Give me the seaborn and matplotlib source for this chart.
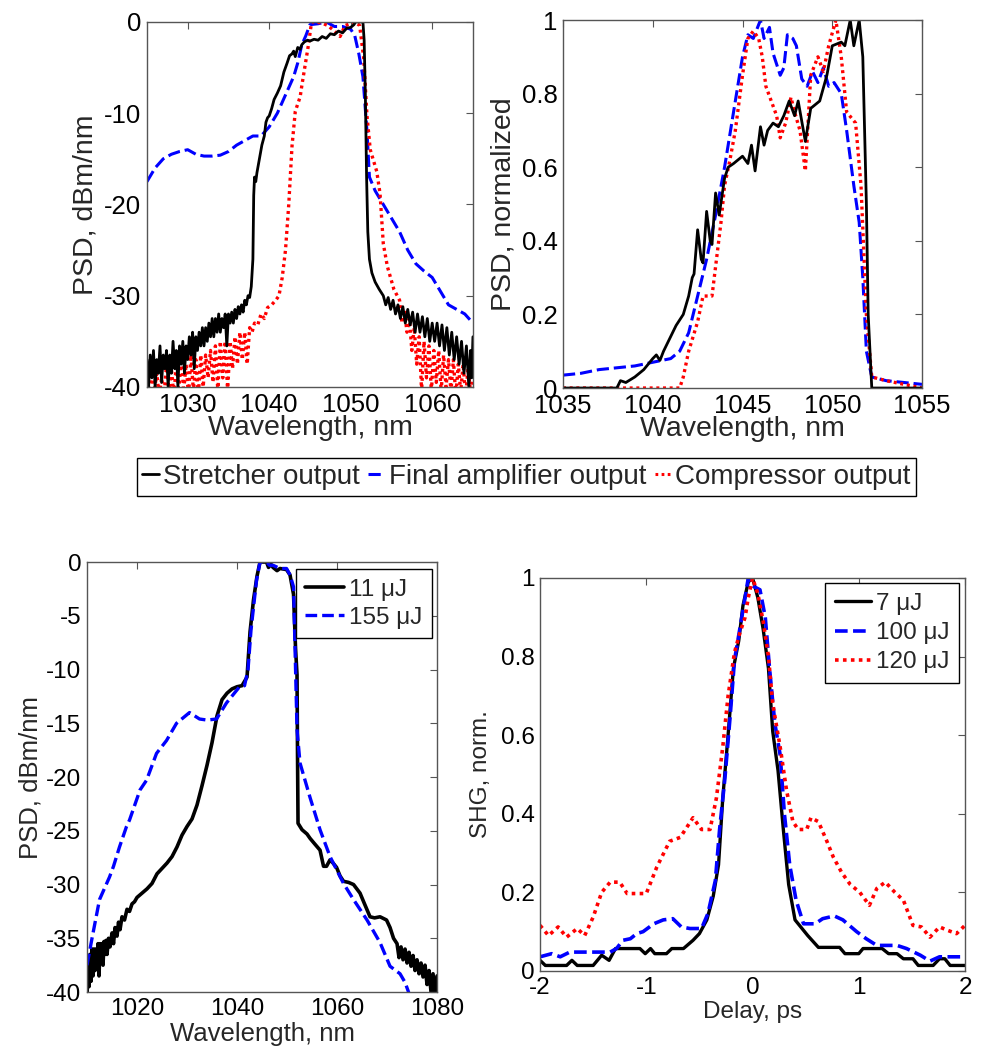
import numpy as np
import pandas as pd
import matplotlib
matplotlib.use("Agg")
import matplotlib.pyplot as plt
import seaborn as sns

# ==========================================
# DATA
# ==========================================
# --- top left: PSD in dBm/nm vs wavelength ---
stretch_wl = [1025.0, 1025.2, 1025.4, 1025.6, 1025.8, 1026.0, 1026.2, 1026.4, 1026.6, 1026.8,
              1027.0, 1027.2, 1027.4, 1027.6, 1027.8, 1028.0, 1028.2, 1028.4, 1028.6, 1028.8,
              1029.0, 1029.2, 1029.4, 1029.6, 1029.8, 1030.0, 1030.2, 1030.4, 1030.6, 1030.8,
              1031.0, 1031.2, 1031.4, 1031.6, 1031.8, 1032.0, 1032.2, 1032.4, 1032.6, 1032.8,
              1033.0, 1033.2, 1033.4, 1033.6, 1033.8, 1034.0, 1034.2, 1034.4, 1034.6, 1034.8,
              1035.0, 1035.2, 1035.4, 1035.6, 1035.8, 1036.0, 1036.2, 1036.4, 1036.6, 1036.8,
              1037.0, 1037.2, 1037.4, 1037.6, 1037.8, 1038.0, 1038.1, 1038.2, 1038.35, 1038.5,
              1038.8, 1039.1, 1039.4, 1039.6, 1039.8, 1040.0, 1040.3, 1040.6, 1041.0, 1041.4,
              1041.8, 1042.2, 1042.5, 1042.8, 1043.0, 1043.2, 1043.5, 1043.8, 1044.0, 1044.3,
              1044.7, 1045.0, 1045.5, 1046.0, 1046.5, 1047.0, 1047.5, 1048.0, 1048.5, 1049.0,
              1049.5, 1050.0, 1050.4, 1050.6, 1051.0, 1051.5, 1051.65, 1051.8, 1051.95, 1052.1,
              1052.3, 1052.6, 1053.0, 1053.5, 1054.0, 1054.3, 1054.6, 1054.9, 1055.2, 1055.5,
              1055.8, 1056.1, 1056.4, 1056.7, 1057.0, 1057.3, 1057.6, 1057.9, 1058.2, 1058.5,
              1058.8, 1059.1, 1059.4, 1059.7, 1060.0, 1060.3, 1060.6, 1060.9, 1061.2, 1061.5,
              1061.8, 1062.1, 1062.4, 1062.7, 1063.0, 1063.3, 1063.6, 1063.9, 1064.2, 1064.5,
              1064.7, 1064.85, 1065.0]
stretch_psd = [-37, -40, -36.5, -39, -36, -40, -37, -38.5, -35.5, -39.5,
               -36.5, -38, -36, -40, -36.5, -38.5, -35, -38, -36, -40,
               -35.5, -37.5, -35, -38.5, -35.5, -37, -34.5, -36.5, -34, -38,
               -34.5, -36, -34, -35.5, -33.5, -35.5, -33.5, -35, -33, -34.5,
               -32.5, -34.5, -32.5, -34, -32, -34, -32.5, -33.5, -32, -35.5,
               -32, -33, -31.8, -33, -31.5, -32.5, -31.2, -32, -31, -31.8,
               -30.5, -31, -30, -30.2, -29, -26, -19, -17, -17.5, -16.5,
               -15, -13.5, -12.5, -11, -10.5, -10.3, -9.5, -8.5, -7.8, -7,
               -5.5, -4.5, -3.7, -3.5, -3.2, -3.8, -2.8, -3, -2.5, -2.2,
               -2, -2.1, -1.9, -2, -1.6, -1.8, -1.3, -1.4, -1.0, -1.2,
               -0.7, -0.6, -0.3, 0, 0, 0, -2, -8, -17, -23,
               -26, -27.5, -28.5, -29.3, -30, -31, -30.2, -31.5, -30.5, -32,
               -31, -32.5, -31.2, -33, -31.5, -33.2, -31.8, -34, -32, -34,
               -32.3, -34.5, -32.5, -35, -33, -35, -33, -35.5, -33.2, -36,
               -33.5, -36.5, -34, -37, -34.5, -37.5, -35, -38.5, -35.5, -40,
               -36, -39, -34.5]

amp_wl = [1025, 1026, 1027, 1028, 1029, 1030, 1031, 1032, 1033, 1034, 1035, 1036, 1037,
          1038, 1039, 1040, 1041, 1042, 1043, 1043.5, 1044, 1044.5, 1045, 1046, 1047,
          1048, 1049, 1050, 1050.5, 1051, 1051.5, 1052, 1052.3, 1053, 1054, 1055, 1056,
          1057, 1058, 1059, 1060, 1061, 1062, 1063, 1064, 1065]
amp_psd = [-17.5, -16, -15, -14.5, -14.2, -14, -14.5, -14.7, -14.7, -14.6, -14.2, -13.5, -13,
           -12.5, -12.5, -11.5, -10, -8, -6, -4.5, -2.5, -1.5, -0.3, -0.2, 0,
           -0.5, -0.5, -0.8, -1.5, -3.5, -6, -12, -17, -18.5, -20, -21.5, -23,
           -25, -26.5, -27.3, -28, -29.5, -31, -31.5, -32, -33]

comp_wl = [1025.0, 1025.3, 1025.6, 1025.9, 1026.2, 1026.5, 1026.8, 1027.1, 1027.4, 1027.7,
           1028.0, 1028.3, 1028.6, 1028.9, 1029.2, 1029.5, 1029.8, 1030.1, 1030.4, 1030.7,
           1031.0, 1031.3, 1031.6, 1031.9, 1032.2, 1032.5, 1032.8, 1033.1, 1033.4, 1033.7,
           1034.0, 1034.3, 1034.6, 1034.9, 1035.2, 1035.5, 1035.8, 1036.1, 1036.4, 1036.7,
           1037.0, 1037.3, 1037.6, 1037.9, 1038.2, 1038.6, 1039.0, 1039.4, 1039.8, 1040.3,
           1040.8, 1041.2, 1041.6, 1042.0, 1042.4, 1042.8, 1043.2, 1043.8, 1044.0, 1044.8,
           1045.2, 1046.4, 1047.2, 1048.0, 1048.7, 1049.3, 1050.5, 1051.1, 1051.6, 1052.0,
           1052.4, 1053.2, 1053.6, 1054.0, 1054.5, 1055.3, 1056.0, 1056.3, 1056.6, 1056.9,
           1057.2, 1057.5, 1057.8, 1058.1, 1058.4, 1058.7, 1059.0, 1059.3, 1059.6, 1059.9,
           1060.2, 1060.5, 1060.8, 1061.1, 1061.4, 1061.7, 1062.0, 1062.3, 1062.6, 1062.9,
           1063.2, 1063.5, 1063.8, 1064.1, 1064.4, 1064.7, 1065.0]
comp_psd = [-38.5, -40.5, -38, -40.5, -38.5, -41, -39, -41, -37.5, -40.5,
            -38, -41, -37.5, -40.5, -36.5, -40.5, -37.5, -41, -36.5, -40.5,
            -37, -41, -36.5, -40, -36.5, -39, -36, -39.5, -35.5, -40.5,
            -35, -39, -35, -40.5, -35, -38, -34.5, -37.5, -34, -37,
            -34, -37.5, -33.5, -34, -33, -33.2, -32, -32.5, -31.3, -31,
            -30.5, -30, -28, -25, -20, -13.6, -9.8, -8.2, -7, -2.6,
            0, -0.1, -0.4, -1, -1.6, -0.4, 0, -0.4, -4, -10.3,
            -14, -16.4, -18.8, -24.3, -26.8, -29.3, -30.5, -33, -31.5, -34,
            -32.5, -36, -33.5, -37.5, -34.5, -40.5, -35, -39, -35.5, -40.5,
            -36, -39.5, -36, -40.5, -36.5, -40, -37, -40.5, -37, -41,
            -37.5, -40.5, -37.5, -41, -38, -40.5, -38]

# --- top right: normalized PSD ---
stretch_lin_wl = [1035, 1038, 1038.2, 1038.5, 1039, 1039.5, 1040, 1040.2, 1040.4, 1040.6,
                  1041, 1041.3, 1041.7, 1042, 1042.2, 1042.3, 1042.5, 1042.7, 1042.8, 1043,
                  1043.2, 1043.3, 1043.5, 1043.7, 1044, 1044.2, 1044.5, 1045, 1045.3, 1045.5,
                  1045.7, 1046, 1046.2, 1046.4, 1046.7, 1047, 1047.3, 1047.6, 1047.9, 1048.1,
                  1048.5, 1048.8, 1049.3, 1049.7, 1050, 1050.5, 1050.7, 1051, 1051.2, 1051.5,
                  1051.7, 1051.9, 1052, 1052.2, 1055]
stretch_lin = [0, 0, 0.02, 0.015, 0.03, 0.05, 0.08, 0.09, 0.075, 0.1,
               0.14, 0.17, 0.2, 0.25, 0.3, 0.31, 0.43, 0.35, 0.34, 0.48,
               0.4, 0.39, 0.53, 0.47, 0.57, 0.6, 0.61, 0.63, 0.61, 0.66,
               0.59, 0.71, 0.66, 0.7, 0.72, 0.71, 0.74, 0.78, 0.74, 0.78,
               0.67, 0.76, 0.78, 0.85, 0.93, 0.94, 0.93, 1.0, 0.93, 1.0,
               0.9, 0.5, 0.2, 0.0, 0]

amp_lin_wl = [1035, 1036, 1037, 1038, 1039, 1040, 1041, 1041.5, 1042, 1042.5, 1043, 1043.5,
              1044, 1044.5, 1045, 1045.3, 1045.6, 1046, 1046.2, 1046.5, 1046.7, 1046.9, 1047.1,
              1047.3, 1047.5, 1047.8, 1048, 1048.3, 1048.6, 1048.9, 1049.2, 1049.5, 1049.8,
              1050.1, 1050.5, 1050.8, 1051.2, 1051.5, 1051.7, 1051.9, 1052.2, 1053, 1055]
amp_lin = [0.035, 0.04, 0.05, 0.055, 0.06, 0.07, 0.08, 0.1, 0.15, 0.25, 0.35, 0.47,
           0.6, 0.75, 0.9, 0.96, 0.95, 1.0, 0.95, 0.98, 0.91, 0.88, 0.85,
           0.87, 0.96, 0.95, 0.93, 0.84, 0.82, 0.86, 0.83, 0.87, 0.82,
           0.83, 0.8, 0.7, 0.55, 0.45, 0.3, 0.1, 0.03, 0.02, 0.01]

comp_lin_wl = [1035, 1041.5, 1041.7, 1042, 1042.5, 1042.8, 1043.3, 1043.5, 1043.8, 1044,
               1044.3, 1044.6, 1045, 1045.3, 1045.6, 1045.9, 1046.1, 1046.3, 1046.6, 1046.9,
               1047.1, 1047.4, 1047.7, 1047.9, 1048.2, 1048.5, 1048.8, 1049.2, 1049.5, 1049.8,
               1050.2, 1050.5, 1050.8, 1051.3, 1051.6, 1051.9, 1052.2, 1053, 1055]
comp_lin = [0, 0, 0.03, 0.1, 0.18, 0.25, 0.25, 0.33, 0.45, 0.55,
            0.62, 0.7, 0.85, 0.95, 0.97, 0.95, 0.9, 0.82, 0.78, 0.74,
            0.68, 0.72, 0.79, 0.75, 0.7, 0.59, 0.85, 0.9, 0.86, 0.93,
            1.0, 0.9, 0.75, 0.72, 0.55, 0.2, 0.03, 0.02, 0]

# --- bottom left: PSD at two pulse energies ---
e11_wl = [1010.0, 1010.2, 1010.4, 1010.6, 1010.8, 1011.0, 1011.2, 1011.4, 1011.6, 1011.8,
          1012.0, 1012.2, 1012.4, 1012.6, 1012.8, 1013.0, 1013.2, 1013.4, 1013.6, 1013.8,
          1014.0, 1014.3, 1014.6, 1015.0, 1015.3, 1015.6, 1016.0, 1016.3, 1016.6, 1017.0,
          1017.5, 1018.0, 1018.5, 1019.0, 1019.5, 1020.0, 1021.0, 1022.0, 1023.0, 1024.0,
          1025.0, 1026.0, 1027.0, 1028.0, 1029.0, 1030.0, 1031.0, 1032.0, 1033.0, 1034.0,
          1035.0, 1036.0, 1037.0, 1038.0, 1039.0, 1040.0, 1041.0, 1042.0, 1042.6, 1043.3,
          1044.0, 1044.6, 1045.9, 1046.3, 1046.8, 1047.2, 1048.0, 1048.6, 1049.9, 1050.6,
          1051.3, 1051.7, 1052.0, 1052.1, 1052.2, 1053.0, 1054.0, 1054.6, 1055.5, 1056.6,
          1057.3, 1057.9, 1058.6, 1059.2, 1059.9, 1060.6, 1061.3, 1062.3, 1063.3, 1064.6,
          1065.5, 1066.6, 1067.5, 1068.6, 1069.9, 1070.6, 1071.3, 1072.0, 1072.4, 1072.8,
          1073.2, 1073.6, 1074.0, 1074.4, 1074.8, 1075.2, 1075.6, 1076.0, 1076.4, 1076.8,
          1077.2, 1077.6, 1078.0, 1078.4, 1078.8, 1079.2, 1079.6, 1080.0]
e11_psd = [-40.5, -37, -39.5, -36.5, -39, -36, -38.5, -36, -38, -36,
           -37.5, -35.5, -38.5, -35.5, -37, -35.5, -37.5, -35.3, -36.5, -35.2,
           -36.5, -35, -35.8, -34.5, -35.5, -34, -34.8, -33.5, -34.2, -33,
           -33.3, -32.3, -32.5, -31.8, -31.6, -31.2, -30.8, -30.4, -29.9, -29,
           -28.5, -28, -27.4, -26.5, -25.4, -24.6, -23.9, -22.6, -20.8, -18.9,
           -16.8, -14.3, -12.8, -12.2, -11.8, -11.6, -11.5, -10.7, -6.5, -3.5,
           -1.3, 0, 0, -0.5, -0.2, -0.5, -0.8, -0.6, -0.7, -1.2,
           -3, -8, -10.5, -18, -24.3, -24.9, -25.3, -25.7, -26.2, -26.8,
           -28.3, -28.3, -27.7, -28, -28.4, -29.2, -29.7, -29.8, -30, -30.8,
           -31.8, -33, -33.1, -33, -33.3, -34, -35, -35.5, -36.8, -35.8,
           -37, -36, -37.3, -36.3, -37.6, -36.6, -38, -37, -38.3, -37.3,
           -38.6, -37.5, -39.3, -38, -40, -38.3, -40.3, -38.5]

e155_wl = [1010, 1011, 1012.5, 1014.5, 1015.3, 1016.5, 1017.9, 1018.5, 1020.6, 1021.9, 1023.9,
           1025.9, 1027.9, 1030.5, 1032.5, 1034, 1035.9, 1037.9, 1040.5, 1041.5, 1042.2,
           1042.8, 1043.9, 1044.6, 1045.9, 1046.5, 1047.2, 1048.6, 1049.9, 1050.6, 1051.3,
           1052.0, 1052.6, 1054.6, 1056.6, 1058.6, 1061.3, 1063.3, 1066.0, 1068.6, 1070.6,
           1072.6, 1073.6, 1074.3, 1074.8]
e155_psd = [-37.5, -35, -31.4, -29.3, -28.3, -26.5, -24.6, -24, -21.2, -20.3, -17.8,
            -16.6, -15, -14, -14.6, -14.7, -14.6, -13.1, -11.6, -11.5, -10,
            -6.3, -1.7, 0, 0, -0.3, -0.3, -0.6, -0.6, -1.2, -2.3,
            -15.6, -18.7, -21.9, -24.9, -27.4, -29.9, -31.4, -33.3, -35.4, -37.6,
            -38.3, -39.1, -40, -41]

# --- bottom right: SHG autocorrelation ---
ac7_t = [-2, -1.95, -1.75, -1.7, -1.65, -1.5, -1.42, -1.35, -1.29, -1.06, -1.01, -0.96,
         -0.92, -0.81, -0.76, -0.65, -0.56, -0.5, -0.43, -0.37, -0.32, -0.28, -0.23, -0.18,
         -0.13, -0.09, -0.04, 0.0, 0.05, 0.1, 0.15, 0.19, 0.24, 0.29, 0.34, 0.4, 0.46,
         0.52, 0.62, 0.82, 0.87, 1.0, 1.04, 1.22, 1.28, 1.36, 1.42, 1.51, 1.56, 1.7,
         1.76, 1.81, 1.86, 2.0]
ac7 = [0.027, 0.014, 0.014, 0.027, 0.014, 0.014, 0.04, 0.027, 0.057, 0.057, 0.044, 0.057,
       0.044, 0.044, 0.057, 0.057, 0.078, 0.095, 0.13, 0.19, 0.27, 0.44, 0.6, 0.77,
       0.84, 0.93, 0.99, 1.0, 0.95, 0.87, 0.77, 0.61, 0.51, 0.36, 0.22, 0.13, 0.11,
       0.09, 0.06, 0.06, 0.044, 0.044, 0.057, 0.057, 0.044, 0.044, 0.031, 0.031, 0.014, 0.014,
       0.031, 0.031, 0.014, 0.014]

ac100_t = [-2, -1.89, -1.81, -1.72, -1.34, -1.28, -1.22, -1.15, -1.09, -1.03, -0.93, -0.84,
           -0.75, -0.67, -0.59, -0.48, -0.42, -0.35, -0.31, -0.26, -0.21, -0.17, -0.12, -0.07,
           -0.04, 0.0, 0.07, 0.12, 0.16, 0.21, 0.26, 0.3, 0.35, 0.41, 0.48, 0.59, 0.66,
           0.77, 0.85, 0.98, 1.07, 1.17, 1.36, 1.45, 1.58, 1.67, 1.76, 2.0]
ac100 = [0.036, 0.044, 0.036, 0.048, 0.048, 0.057, 0.078, 0.082, 0.095, 0.1, 0.12, 0.13,
         0.133, 0.112, 0.108, 0.108, 0.146, 0.23, 0.36, 0.49, 0.65, 0.79, 0.87, 0.95,
         1.0, 0.98, 0.97, 0.9, 0.77, 0.63, 0.55, 0.4, 0.27, 0.18, 0.12, 0.12, 0.133,
         0.14, 0.13, 0.1, 0.082, 0.065, 0.065, 0.057, 0.04, 0.025, 0.036, 0.036]

ac120_t = [-2, -1.92, -1.83, -1.75, -1.65, -1.58, -1.5, -1.42, -1.34, -1.25, -1.18, -1.0,
           -0.9, -0.78, -0.68, -0.56, -0.48, -0.4, -0.34, -0.28, -0.23, -0.17, -0.12, -0.07,
           -0.04, 0.0, 0.05, 0.1, 0.15, 0.19, 0.26, 0.32, 0.38, 0.43, 0.51, 0.55, 0.62,
           0.7, 0.76, 0.84, 0.92, 1.01, 1.1, 1.17, 1.25, 1.34, 1.42, 1.51, 1.59, 1.67,
           1.76, 1.84, 1.92, 2.0]
ac120 = [0.116, 0.09, 0.112, 0.086, 0.108, 0.09, 0.137, 0.2, 0.226, 0.226, 0.197, 0.197,
         0.265, 0.33, 0.34, 0.39, 0.36, 0.36, 0.44, 0.57, 0.7, 0.81, 0.86, 0.9,
         0.95, 1.0, 0.96, 0.89, 0.8, 0.68, 0.57, 0.46, 0.38, 0.36, 0.36, 0.39, 0.38,
         0.33, 0.29, 0.25, 0.22, 0.2, 0.167, 0.21, 0.226, 0.2, 0.18, 0.116, 0.112, 0.086,
         0.112, 0.103, 0.095, 0.116]

top_labels = ["Stretcher output", "Final amplifier output", "Compressor output"]
energy_labels = ["11 \u03bcJ", "155 \u03bcJ"]
ac_labels = ["7 \u03bcJ", "100 \u03bcJ", "120 \u03bcJ"]

# ==========================================
# STYLE
# ==========================================
sns.set_theme(style="white")
plt.rcParams['font.family'] = ['Liberation Sans', 'DejaVu Sans']
plt.rcParams['axes.unicode_minus'] = False
plt.rcParams['axes.edgecolor'] = '#555555'
plt.rcParams['axes.linewidth'] = 1.0

SOLID = dict(color='black', linestyle='-')
DASH = dict(color='#0000ff', dashes=(4, 1.6))
DOT = dict(color='#ff0000', dashes=(0.9, 1.1))


def line(ax, x, y, style, lw, label=None):
    sns.lineplot(x=x, y=y, ax=ax, estimator=None, sort=False, lw=lw, label=label, **style)


def frame(ax, xlim, ylim, xticks, yticks, tsize):
    ax.set_xlim(*xlim)
    ax.set_ylim(*ylim)
    ax.set_xticks(xticks)
    ax.set_yticks(yticks)
    ax.tick_params(direction='in', top=True, right=True, length=5, width=0.8,
                   color='#555555', labelsize=tsize, pad=4, labelcolor='black')
    for s in ax.spines.values():
        s.set_visible(True)


fig = plt.figure(figsize=(9.81, 10.49), dpi=100)

# ---- top left ----
ax1 = fig.add_axes([0.1498, 0.6311, 0.3323, 0.3480])
line(ax1, amp_wl, amp_psd, DASH, 2.2)
line(ax1, comp_wl, comp_psd, DOT, 2.4)
line(ax1, stretch_wl, stretch_psd, SOLID, 2.0)
frame(ax1, (1025, 1065), (-40, 0), [1030, 1040, 1050, 1060], [-40, -30, -20, -10, 0], 18.5)
ax1.set_xlabel('Wavelength, nm', fontsize=20.5, labelpad=-1)
ax1.set_ylabel('PSD, dBm/nm', fontsize=20.5, labelpad=4)

# ---- top right ----
ax2 = fig.add_axes([0.5739, 0.6301, 0.3660, 0.3508])
line(ax2, amp_lin_wl, amp_lin, DASH, 2.2)
line(ax2, comp_lin_wl, comp_lin, DOT, 2.4)
line(ax2, stretch_lin_wl, stretch_lin, SOLID, 2.0)
frame(ax2, (1035, 1055), (0, 1), [1035, 1040, 1045, 1050, 1055],
      [0, 0.2, 0.4, 0.6, 0.8, 1], 18.5)
ax2.set_yticklabels(['0', '0.2', '0.4', '0.6', '0.8', '1'])
ax2.set_xlabel('Wavelength, nm', fontsize=20.5, labelpad=-1)
ax2.set_ylabel('PSD, normalized', fontsize=20.5, labelpad=4)

# shared legend for top row
handles = [plt.Line2D([], [], lw=2.0, **SOLID),
           plt.Line2D([], [], lw=2.2, **DASH),
           plt.Line2D([], [], lw=2.2, **DOT)]
fig.legend(handles, top_labels, loc='center', bbox_to_anchor=(0.5367, 0.5453), ncol=3,
           fontsize=20, handlelength=0.6, handletextpad=0.15, columnspacing=0.3,
           borderpad=0.2, fancybox=False, edgecolor='black', framealpha=1)

# ---- bottom left ----
ax3 = fig.add_axes([0.0887, 0.0543, 0.3568, 0.4099])
line(ax3, e11_wl, e11_psd, SOLID, 2.6, energy_labels[0])
line(ax3, e155_wl, e155_psd, dict(color='#0000ff', dashes=(3.5, 1.5)), 2.4, energy_labels[1])
frame(ax3, (1010, 1080), (-40, 0), [1020, 1040, 1060, 1080],
      [-40, -35, -30, -25, -20, -15, -10, -5, 0], 17.5)
ax3.set_xlabel('Wavelength, nm', fontsize=18.5, labelpad=2)
ax3.set_ylabel('PSD, dBm/nm', fontsize=18.5, labelpad=3)
ax3.legend(loc='upper right', bbox_to_anchor=(0.986, 0.984), borderaxespad=0,
           fontsize=17.5, handlelength=1.6, handletextpad=0.2, labelspacing=0.25,
           borderpad=0.4, fancybox=False, edgecolor='black', framealpha=1)

# ---- bottom right ----
ax4 = fig.add_axes([0.5505, 0.0744, 0.4332, 0.3746])
line(ax4, ac7_t, ac7, SOLID, 2.4, ac_labels[0])
line(ax4, ac100_t, ac100, dict(color='#0000ff', dashes=(3.5, 1.5)), 2.6, ac_labels[1])
line(ax4, ac120_t, ac120, dict(color='#ff0000', dashes=(1, 1.2)), 2.6, ac_labels[2])
frame(ax4, (-2, 2), (0, 1), [-2, -1, 0, 1, 2], [0, 0.2, 0.4, 0.6, 0.8, 1], 17.5)
ax4.set_yticklabels(['0', '0.2', '0.4', '0.6', '0.8', '1'])
ax4.set_xlabel('Delay, ps', fontsize=17.5, labelpad=2)
ax4.set_ylabel('SHG, norm.', fontsize=17.5, labelpad=6)
ax4.legend(loc='upper right', bbox_to_anchor=(0.986, 0.987), borderaxespad=0,
           fontsize=17.5, handlelength=1.5, handletextpad=0.2, labelspacing=0.3,
           borderpad=0.4, fancybox=False, edgecolor='black', framealpha=1)

fig.savefig('out.png', dpi=100)
